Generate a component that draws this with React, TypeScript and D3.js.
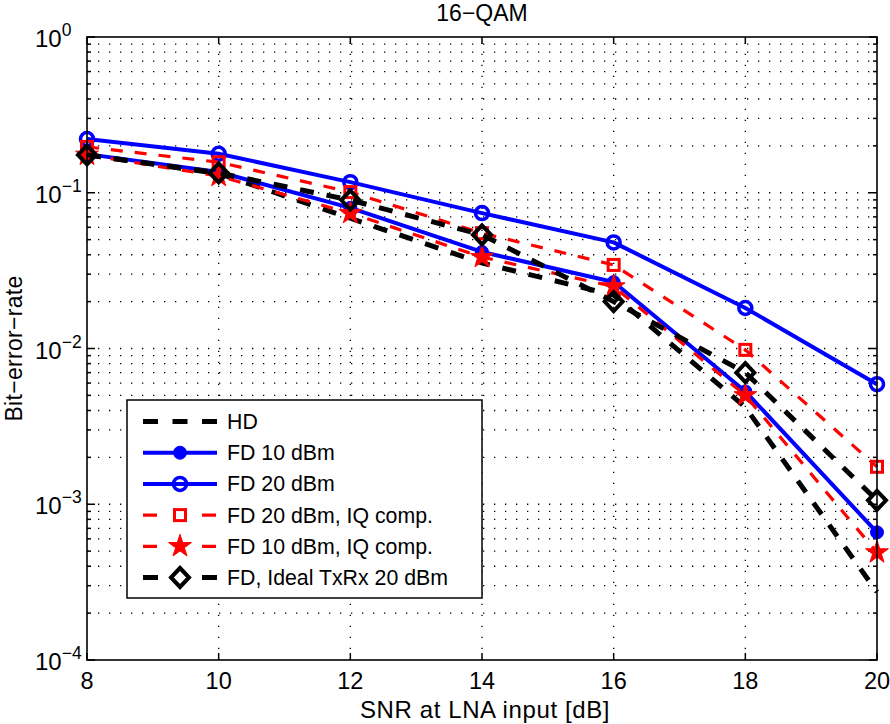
import React from "react";
import * as d3 from "d3";

const snr = [8, 10, 12, 14, 16, 18, 20];
const hd = [0.175, 0.133, 0.0686, 0.0354, 0.022, 0.0042, 0.000273];
const fd10 = [0.177, 0.136, 0.080, 0.0417, 0.0267, 0.0053, 0.00066];
const fd20 = [0.221, 0.178, 0.117, 0.074, 0.048, 0.0182, 0.0059];
const fd20iq = [0.197, 0.157, 0.101, 0.055, 0.0344, 0.0098, 0.00174];
const fd10iq = [0.175, 0.128, 0.074, 0.0386, 0.025, 0.0050, 0.00049];
const ideal = [0.175, 0.134, 0.0898, 0.0537, 0.020, 0.0070, 0.00106];

const xTicks = [8, 10, 12, 14, 16, 18, 20];
const yExps = [-4, -3, -2, -1, 0];

const seriesNames = [
  "HD",
  "FD 10 dBm",
  "FD 20 dBm",
  "FD 20 dBm, IQ comp.",
  "FD 10 dBm, IQ comp.",
  "FD, Ideal TxRx 20 dBm",
];

const FONT = "'Liberation Sans', Arial, Helvetica, sans-serif";

type Marker = "none" | "dot" | "circle" | "square" | "star" | "diamond";
interface Series {
  name: string;
  values: number[];
  color: string;
  width: number;
  dash: string | undefined;
  legendDash: string | undefined;
  marker: Marker;
}

const series: Series[] = [
  { name: seriesNames[0], values: hd, color: "#000000", width: 5, dash: "14 13", legendDash: "15 14.5", marker: "none" },
  { name: seriesNames[1], values: fd10, color: "#0000ff", width: 4, dash: undefined, legendDash: undefined, marker: "dot" },
  { name: seriesNames[2], values: fd20, color: "#0000ff", width: 4, dash: undefined, legendDash: undefined, marker: "circle" },
  { name: seriesNames[3], values: fd20iq, color: "#ff0000", width: 3.2, dash: "12 12", legendDash: "14 45", marker: "square" },
  { name: seriesNames[4], values: fd10iq, color: "#ff0000", width: 3.2, dash: "12 12", legendDash: "14 45", marker: "star" },
  { name: seriesNames[5], values: ideal, color: "#000000", width: 5, dash: "14 13", legendDash: "15 44", marker: "diamond" },
];

function starPath(R: number) {
  const r = R * 0.382;
  const pts: string[] = [];
  for (let i = 0; i < 10; i++) {
    const a = -Math.PI / 2 + (i * Math.PI) / 5;
    const rad = i % 2 === 0 ? R : r;
    pts.push(`${(rad * Math.cos(a)).toFixed(2)},${(rad * Math.sin(a)).toFixed(2)}`);
  }
  return "M" + pts.join("L") + "Z";
}

function MarkerShape({ type, x, y, color }: { type: Marker; x: number; y: number; color: string }) {
  switch (type) {
    case "dot":
      return <circle cx={x} cy={y} r={6.5} fill={color} stroke={color} strokeWidth={1} />;
    case "circle":
      return <circle cx={x} cy={y} r={6.5} fill="none" stroke={color} strokeWidth={3.5} />;
    case "square":
      return <rect x={x - 5.5} y={y - 5.5} width={11} height={11} fill="none" stroke={color} strokeWidth={3} />;
    case "star":
      return <path d={starPath(12)} transform={`translate(${x},${y})`} fill={color} stroke={color} strokeWidth={1} />;
    case "diamond":
      return (
        <path
          d="M0,-9.5L9,0L0,9.5L-9,0Z"
          transform={`translate(${x},${y})`}
          fill="none"
          stroke={color}
          strokeWidth={4}
          strokeLinejoin="miter"
        />
      );
    default:
      return null;
  }
}

export default function App() {
  const W = 890;
  const H = 724;
  const left = 87;
  const right = 877;
  const top = 37;
  const bottom = 660;

  const x = d3.scaleLinear().domain([8, 20]).range([left, right]);
  const y = d3.scaleLog().domain([1e-4, 1]).range([bottom, top]);

  const line = d3
    .line<number>()
    .x((_, i) => x(snr[i]))
    .y((v) => y(v));

  const minorVals: number[] = [];
  for (let e = -4; e < 0; e++) {
    for (let k = 2; k <= 9; k++) minorVals.push(k * Math.pow(10, e));
  }
  const majorVals = yExps.map((e) => Math.pow(10, e));

  const gridDash = "1.3 9.7";

  // legend layout
  const lgX0 = 127;
  const lgX1 = 482;
  const lgY0 = 400;
  const lgY1 = 598;
  const rowY0 = 421.5;
  const rowStep = 31.2;

  return (
    <svg width={W} height={H} style={{ display: "block", position: "absolute", left: 0, top: 0 }} fontFamily={FONT}>
      <rect x={0} y={0} width={W} height={H} fill="#ffffff" />
      {/* grid */}
      <g stroke="#000" strokeWidth={1.3} strokeDasharray={gridDash} fill="none">
        {[...minorVals, ...majorVals.slice(1, -1)].map((v, i) => (
          <line key={"hg" + i} x1={left} x2={right} y1={y(v)} y2={y(v)} />
        ))}
        {xTicks.slice(1, -1).map((t) => (
          <line key={"vg" + t} x1={x(t)} x2={x(t)} y1={bottom} y2={top} />
        ))}
      </g>
      {/* ticks */}
      <g stroke="#000" strokeWidth={1.5}>
        {xTicks.map((t) => (
          <g key={"xt" + t}>
            <line x1={x(t)} x2={x(t)} y1={bottom} y2={bottom - 7} />
            <line x1={x(t)} x2={x(t)} y1={top} y2={top + 7} />
          </g>
        ))}
        {majorVals.map((v, i) => (
          <g key={"ymt" + i}>
            <line x1={left} x2={left + 8} y1={y(v)} y2={y(v)} />
            <line x1={right} x2={right - 8} y1={y(v)} y2={y(v)} />
          </g>
        ))}
        {minorVals.map((v, i) => (
          <g key={"ynt" + i}>
            <line x1={left} x2={left + 4} y1={y(v)} y2={y(v)} />
            <line x1={right} x2={right - 4} y1={y(v)} y2={y(v)} />
          </g>
        ))}
      </g>
      {/* series */}
      {series.map((s, si) => (
        <g key={"s" + si}>
          <path
            d={line(s.values) || ""}
            fill="none"
            stroke={s.color}
            strokeWidth={s.width}
            strokeDasharray={s.dash}
            strokeLinejoin="round"
          />
          {s.values.map((v, i) => (
            <MarkerShape key={i} type={s.marker} x={x(snr[i])} y={y(v)} color={s.color} />
          ))}
        </g>
      ))}
      {/* axes box */}
      <rect x={left} y={top} width={right - left} height={bottom - top} fill="none" stroke="#000" strokeWidth={1.6} />
      {/* x tick labels */}
      <g fontSize={23.5} textAnchor="middle" fill="#000">
        {xTicks.map((t) => (
          <text key={"xl" + t} x={x(t)} y={689}>
            {t}
          </text>
        ))}
      </g>
      {/* y tick labels */}
      <g fill="#000">
        {yExps.map((e) => (
          <text key={"yl" + e} x={35} y={y(Math.pow(10, e)) + 10} fontSize={24}>
            10
            <tspan fontSize={17.5} dy={-11}>
              {e < 0 ? "\u2212" + Math.abs(e) : String(e)}
            </tspan>
          </text>
        ))}
      </g>
      {/* title and axis labels */}
      <text x={482} y={21} textAnchor="middle" fontSize={23} fill="#000">
        16{"\u2212"}QAM
      </text>
      <text x={485} y={718} textAnchor="middle" fontSize={24} letterSpacing={0.6} fill="#000">
        SNR at LNA input [dB]
      </text>
      <text
        transform={`translate(21.5,${(top + bottom) / 2}) rotate(-90)`}
        textAnchor="middle"
        fontSize={23}
        letterSpacing={0.3}
        fill="#000"
      >
        Bit{"\u2212"}error{"\u2212"}rate
      </text>
      {/* legend */}
      <rect x={lgX0} y={lgY0} width={lgX1 - lgX0} height={lgY1 - lgY0} fill="#fff" stroke="#000" strokeWidth={1.5} />
      {series.map((s, i) => {
        const ry = rowY0 + i * rowStep;
        return (
          <g key={"lg" + i}>
            <line
              x1={143}
              x2={217}
              y1={ry}
              y2={ry}
              stroke={s.color}
              strokeWidth={s.width}
              strokeDasharray={s.legendDash}
            />
            <MarkerShape type={s.marker} x={180} y={ry} color={s.color} />
            <text x={227} y={ry + 7.5} fontSize={21.3} fill="#000">
              {s.name}
            </text>
          </g>
        );
      })}
    </svg>
  );
}
